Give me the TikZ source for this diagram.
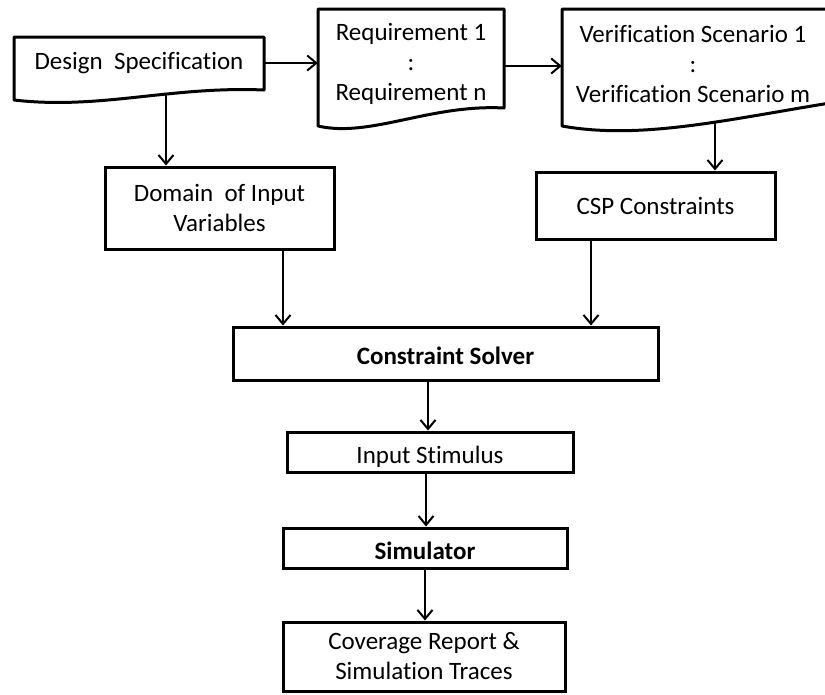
\documentclass[tikz,border=0pt]{standalone}
\usepackage{fontspec}
\setmainfont[Ligatures={NoCommon}]{Carlito}
\usetikzlibrary{arrows.meta}
\begin{document}
\begin{tikzpicture}[x=1pt,y=-1pt,
  font=\fontsize{25}{30}\selectfont,
  box/.style={draw, line width=3pt, rectangle, align=center, inner sep=0pt},
  oneline/.style={text height=22pt, text depth=0pt},
  boldtext/.style={font=\fontsize{25}{30}\selectfont\bfseries},
  doctext/.style={rectangle, align=center, inner sep=0pt},
  docline/.style={draw, line width=3pt, line join=round},
  arr/.style={line width=2pt, -{Straight Barb[length=9pt,width=15pt,line width=2pt]}}]

\useasboundingbox (0,0) rectangle (825,694);
\fill[white] (0,0) rectangle (825,694);

% document-shaped inputs (flat top, wavy bottom)
\draw[docline] (14,100) -- (14,37) -- (264,37) -- (264,90)
  .. controls (170,86) and (100,110) .. (14,100) -- cycle;
\draw[docline] (318,126) -- (318,9) -- (504,9) -- (504,108)
  .. controls (430,104) and (370,138) .. (318,126) -- cycle;
\draw[docline] (562,126) -- (562,9) -- (830,9) -- (830,103)
  .. controls (725,120) and (640,140) .. (562,126) -- cycle;

\node[doctext, minimum width=250] (ds) at (139,63) {Design\ \ Specification};
\node[doctext, minimum width=186] (rq) at (411,64) {Requirement 1\\:\\Requirement n};
\node[doctext, minimum width=262] (vs) at (693,64) {Verification Scenario 1\\:\\Verification Scenario m};

% process boxes
\node[box, minimum width=229, minimum height=82] (dom) at (219.5,208) {Domain\ \ of Input\\Variables};
\node[box, minimum width=239, minimum height=67] (csp) at (655.5,205.5) {CSP Constraints};
\node[box, oneline, boldtext, minimum width=425, minimum height=53] (cs) at (445.5,353.5) {Constraint Solver};
\node[box, oneline, minimum width=286, minimum height=40] (is) at (430,452) {Input Stimulus};
\node[box, oneline, boldtext, minimum width=284, minimum height=40] (sim) at (425,548) {Simulator};
\node[box, minimum width=282, minimum height=69] (cov) at (424,656.5) {Coverage Report \&\\Simulation Traces};

% exit points on the wavy bottoms
\coordinate (ds-out) at (166,95);
\coordinate (vs-out) at (715,121);

% connectors
\draw[arr] (ds.east) -- (ds.east -| rq.west);
\draw[arr] ([yshift=-2pt]rq.east) -- ([yshift=-2pt]rq.east -| vs.west);
\draw[arr] (ds-out) -- (ds-out |- dom.north);
\draw[arr] (vs-out) -- (vs-out |- csp.north);
\draw[arr] ([xshift=63.5pt]dom.south) -- ([xshift=63.5pt]dom.south |- cs.north);
\draw[arr] ([xshift=-64.5pt]csp.south) -- ([xshift=-64.5pt]csp.south |- cs.north);
\draw[arr] ([xshift=-17.5pt]cs.south) -- ([xshift=-17.5pt]cs.south |- is.north);
\draw[arr] ([xshift=-4pt]is.south) -- ([xshift=-4pt]is.south |- sim.north);
\draw[arr] (sim.south) -- (sim.south |- cov.north);
\end{tikzpicture}
\end{document}
